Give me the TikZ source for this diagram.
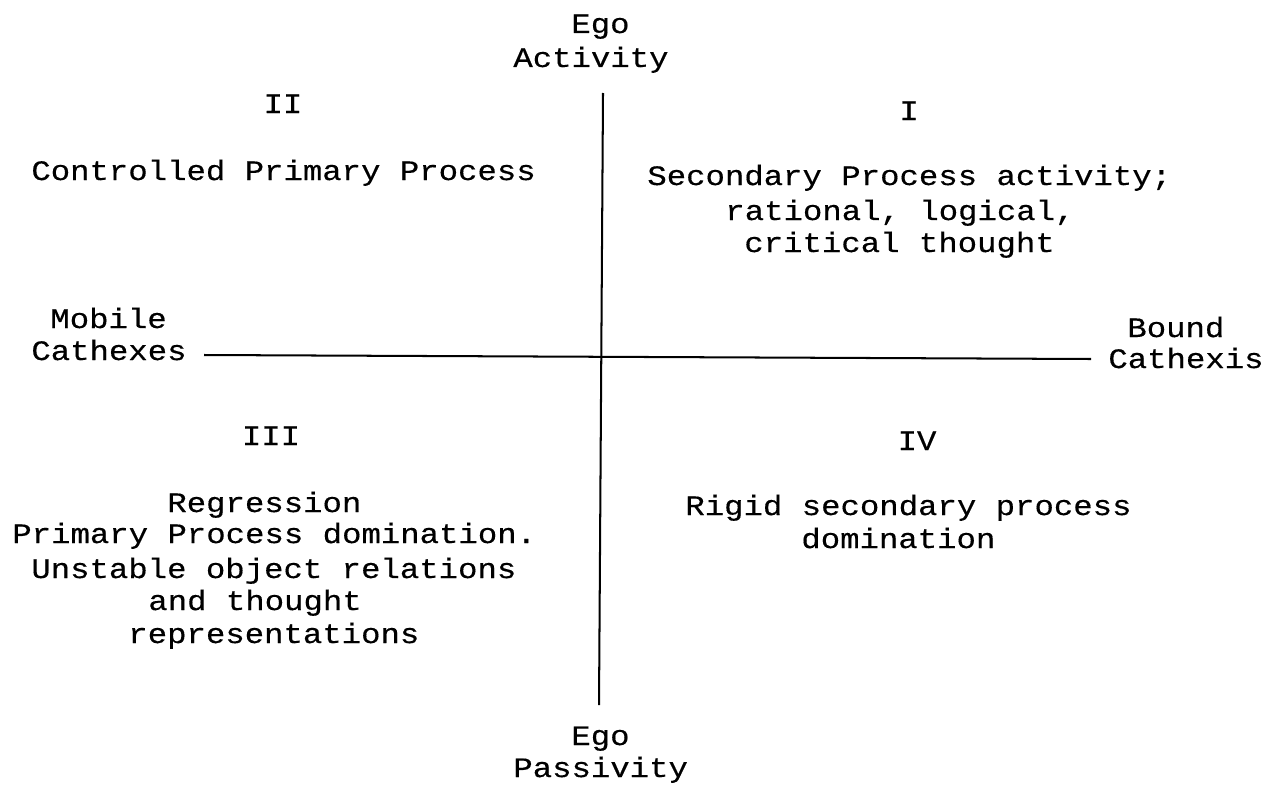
\documentclass[tikz,border=0pt]{standalone}
\usepackage{fontspec}
% wide typewriter face: monospaced, a little stretched
\newfontfamily\twfont[FakeStretch=1.15,FakeBold=0.4]{Liberation Mono}
\begin{document}
\begin{tikzpicture}[x=0.02cm, y=-0.02cm,
  txt/.style={anchor=base west, inner sep=0pt, font=\twfont\fontsize{16}{19}\selectfont},
  numeral/.style={anchor=base, inner sep=0pt, font=\twfont\fontsize{16}{19}\selectfont},
  axis/.style={line width=1.15pt, black}]
\useasboundingbox (0,0) rectangle (1266,784);

% axes
\coordinate (top) at (603,93);
\coordinate (bottom) at (599,705);
\coordinate (left) at (204,355);
\coordinate (right) at (1091,359);
\draw[axis] (top) -- (bottom);
\draw[axis] (left) -- (right);

% vertical axis labels
\node[txt] (egoA) at (571,33) {Ego};
\node[txt] (activity) at (513,67) {Activity};
\node[txt] (egoP) at (571,745) {Ego};
\node[txt] (passivity) at (513,777) {Passivity};

% horizontal axis labels
\node[txt] (mobile) at (50,328) {Mobile};
\node[txt] (cathexes) at (31,360) {Cathexes};
\node[txt] (bound) at (1127,337) {Bound};
\node[txt] (cathexis) at (1108,368) {Cathexis};

% quadrant II
\node[numeral] (q2) at (283,113) {II};
\node[txt] (q2a) at (31,180) {Controlled Primary Process};

% quadrant I
\node[numeral] (q1) at (909,120) {I};
\node[txt] (q1a) at (647,185) {Secondary Process activity;};
\node[txt] (q1b) at (725,220) {rational, logical,};
\node[txt] (q1c) at (744,252) {critical thought};

% quadrant III
\node[numeral] (q3) at (271,445) {III};
\node[txt] (q3a) at (167,512) {Regression};
\node[txt] (q3b) at (12,543) {Primary Process domination.};
\node[txt] (q3c) at (31,578) {Unstable object relations};
\node[txt] (q3d) at (148,610) {and thought};
\node[txt] (q3e) at (128,643) {representations};

% quadrant IV
\node[numeral] (q4) at (917,450) {IV};
\node[txt] (q4a) at (685,515) {Rigid secondary process};
\node[txt] (q4b) at (801,548) {domination};
\end{tikzpicture}
\end{document}
